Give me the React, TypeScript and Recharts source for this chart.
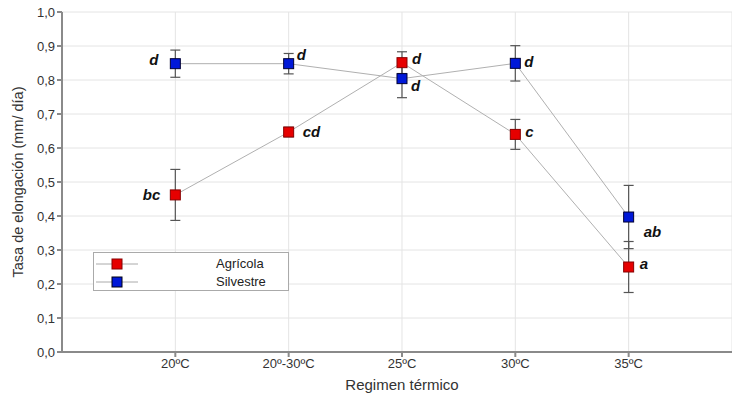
import {
  ComposedChart,
  Line,
  XAxis,
  YAxis,
  CartesianGrid,
  ErrorBar,
  LabelList,
} from "recharts";

// ── Data ──
const categories = ["20ºC", "20º-30ºC", "25ºC", "30ºC", "35ºC"];
const agricola = [0.462, 0.647, 0.851, 0.64, 0.25];
const agricolaErr = [0.075, 0.014, 0.032, 0.044, 0.075];
const agricolaLetters = ["bc", "cd", "d", "c", "a"];
const silvestre = [0.848, 0.848, 0.804, 0.849, 0.397];
const silvestreErr = [0.04, 0.03, 0.056, 0.052, 0.093];
const silvestreLetters = ["d", "d", "d", "d", "ab"];
const yTicks = [0, 0.1, 0.2, 0.3, 0.4, 0.5, 0.6, 0.7, 0.8, 0.9, 1.0];

const data = categories.map((c, i) => ({
  x: i + 1,
  name: c,
  agricola: agricola[i],
  agricolaErr: agricolaErr[i],
  agricolaLetter: agricolaLetters[i],
  silvestre: silvestre[i],
  silvestreErr: silvestreErr[i],
  silvestreLetter: silvestreLetters[i],
}));

const FONT = "'Liberation Sans', Arial, sans-serif";
const RED = "#e60000";
const BLUE = "#0018d8";

// letter offsets relative to each point (dx, dy, anchor)
const agricolaOffsets: [number, number, string][] = [
  [-15, 0, "end"],
  [14, 0, "start"],
  [10, -4, "start"],
  [10, -2, "start"],
  [11, -3, "start"],
];
const silvestreOffsets: [number, number, string][] = [
  [-17, -4, "end"],
  [8, -9, "start"],
  [9, 7, "start"],
  [9, -1, "start"],
  [15, 15, "start"],
];

function SquareDot(props: any) {
  const { cx, cy, fill, stroke } = props;
  if (cx == null || cy == null) return null;
  return (
    <rect
      x={cx - 5}
      y={cy - 5}
      width={10}
      height={10}
      fill={fill}
      stroke={stroke}
      strokeWidth={1}
    />
  );
}

function letterContent(offsets: [number, number, string][]) {
  return (props: any) => {
    const { x, y, value, index } = props;
    const [dx, dy, anchor] = offsets[index];
    return (
      <text
        x={x + dx}
        y={y + dy}
        dy={5}
        textAnchor={anchor}
        fontFamily={FONT}
        fontSize={15}
        fontWeight="bold"
        fontStyle="italic"
        fill="#111"
      >
        {value}
      </text>
    );
  };
}

function LegendBox() {
  const rows = [
    { name: "Agrícola", color: RED, stroke: "#800" },
    { name: "Silvestre", color: BLUE, stroke: "#001" },
  ];
  return (
    <div
      style={{
        position: "absolute",
        left: 93,
        top: 252,
        width: 196,
        height: 39,
        border: "1px solid #aaa",
        background: "#fff",
        boxSizing: "border-box",
        fontFamily: FONT,
        fontSize: 13,
        color: "#222",
      }}
    >
      {rows.map((r, i) => (
        <div
          key={r.name}
          style={{ position: "absolute", left: 0, top: 3 + i * 18, height: 16, width: 195 }}
        >
          <svg width={50} height={16} style={{ position: "absolute", left: 2, top: 0 }}>
            <line x1={0} y1={8} x2={42} y2={8} stroke="#aaa" strokeWidth={1} />
            <rect x={16} y={3} width={10} height={10} fill={r.color} stroke={r.stroke} />
          </svg>
          <span style={{ position: "absolute", left: 122, top: 0, lineHeight: "16px" }}>
            {r.name}
          </span>
        </div>
      ))}
    </div>
  );
}

export default function App() {
  return (
    <div
      style={{
        position: "fixed",
        left: 0,
        top: 0,
        width: 732,
        height: 397,
        overflow: "hidden",
        background: "#fff",
      }}
    >
      <style>{`html,body{margin:0;overflow:hidden}`}</style>
      <ComposedChart
        width={732}
        height={397}
        data={data}
        margin={{ top: 12, right: 0, left: 0, bottom: 0 }}
      >
        <CartesianGrid stroke="#e4e4e4" strokeWidth={1} />
        <XAxis
          type="number"
          dataKey="x"
          domain={[0, 5.912]}
          ticks={[1, 2, 3, 4, 5]}
          tickFormatter={(v: number) => categories[v - 1] ?? ""}
          height={45}
          stroke="#8a8a8a"
          strokeWidth={2}
          tickSize={5}
          tick={{ fontSize: 13, fill: "#333", fontFamily: FONT }}
          label={{
            value: "Regimen térmico",
            position: "center",
            dy: 10,
            dx: 5,
            fontSize: 15,
            fill: "#333",
            fontFamily: FONT,
          }}
        />
        <YAxis
          type="number"
          domain={[0, 1]}
          ticks={yTicks}
          width={62}
          stroke="#8a8a8a"
          strokeWidth={2}
          tickSize={5}
          interval={0}
          tickFormatter={(v: number) => v.toFixed(1).replace(".", ",")}
          tick={{ fontSize: 13, fill: "#333", fontFamily: FONT }}
          label={{
            value: "Tasa de elongación (mm/ día)",
            angle: -90,
            position: "center",
            dx: -13,
            fontSize: 14.5,
            fill: "#333",
            fontFamily: FONT,
          }}
        />
        <Line
          dataKey="agricola"
          name="Agrícola"
          stroke="#b0b0b0"
          strokeWidth={1}
          isAnimationActive={false}
          dot={<SquareDot fill={RED} stroke="#880000" />}
          activeDot={false}
        >
          <ErrorBar dataKey="agricolaErr" width={5} stroke="#555" strokeWidth={1.2} direction="y" />
          <LabelList dataKey="agricolaLetter" content={letterContent(agricolaOffsets)} />
        </Line>
        <Line
          dataKey="silvestre"
          name="Silvestre"
          stroke="#b0b0b0"
          strokeWidth={1}
          isAnimationActive={false}
          dot={<SquareDot fill={BLUE} stroke="#000033" />}
          activeDot={false}
        >
          <ErrorBar dataKey="silvestreErr" width={5} stroke="#555" strokeWidth={1.2} direction="y" />
          <LabelList dataKey="silvestreLetter" content={letterContent(silvestreOffsets)} />
        </Line>
      </ComposedChart>
      <LegendBox />
    </div>
  );
}
